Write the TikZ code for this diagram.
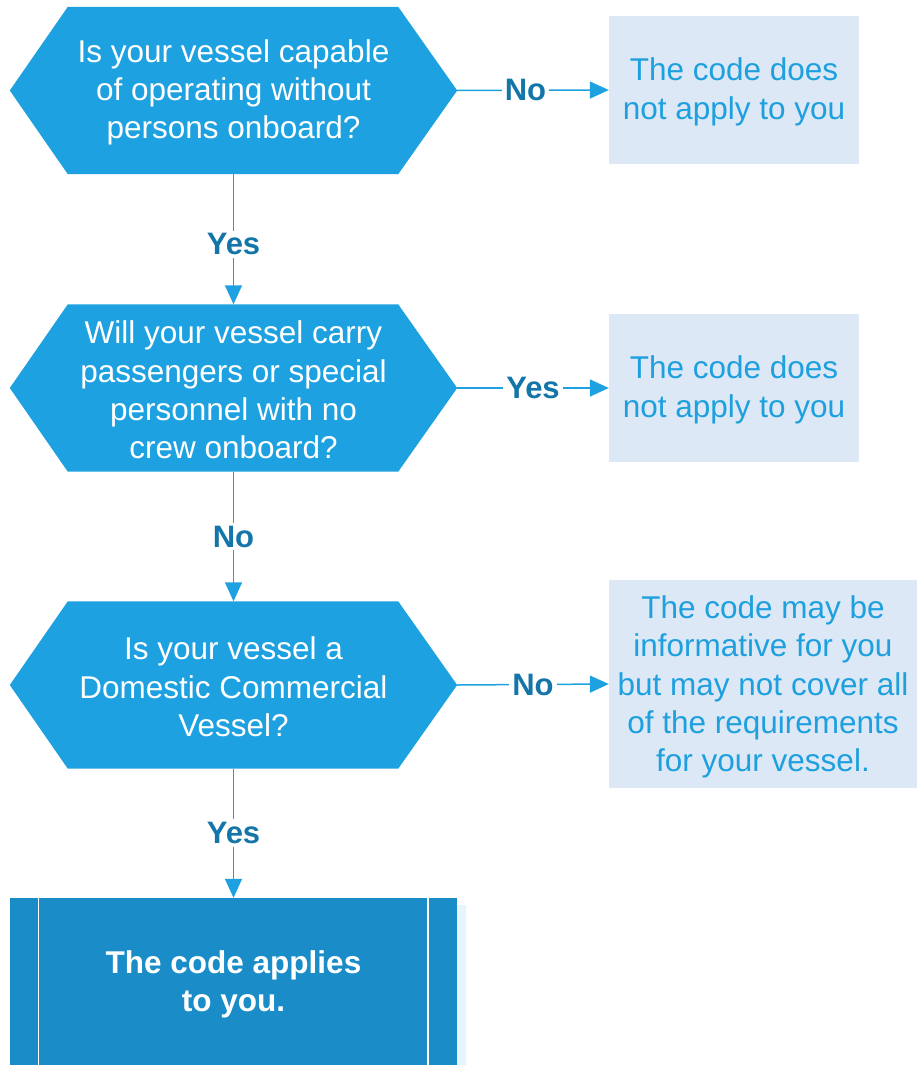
\documentclass[tikz,border=0pt]{standalone}
\usepackage{fontspec}
\setmainfont{Liberation Sans}
\usetikzlibrary{arrows.meta}
\definecolor{hexblue}{RGB}{30,161,224}
\definecolor{endblue}{RGB}{26,141,200}
\definecolor{notefill}{RGB}{220,232,246}
\definecolor{notetext}{RGB}{30,160,222}
\definecolor{labelblue}{RGB}{20,118,168}
\definecolor{shadowblue}{RGB}{232,244,252}
\tikzset{
  txt/.style={font=\fontsize{31.5}{38.3}\selectfont, align=center},
  question/.style={txt, text=white, minimum width=447pt, minimum height=167pt, inner sep=0pt, text width=420pt},
  qtext/.style={txt, text=white, yshift=-2pt},
  hexfill/.style={fill=hexblue},
  note/.style={fill=notefill, inner sep=0pt, minimum height=148pt, minimum width=250pt},
  notetxt/.style={txt, text=notetext, yshift=-2pt},
  arr/.style={draw=hexblue, line width=1.5pt, -{Triangle[length=19pt,width=17pt]}},
  lbl/.style={font=\fontsize{31}{36}\bfseries\selectfont, text=labelblue, fill=white, inner sep=3pt},
}
\newcommand{\hexagon}[1]{%
  \path[hexfill] (#1.west) -- ([xshift=58pt]#1.north west) -- ([xshift=-59pt]#1.north east)
    -- (#1.east) -- ([xshift=-59pt]#1.south east) -- ([xshift=58pt]#1.south west) -- cycle;}
\begin{document}
\begin{tikzpicture}[x=1pt,y=-1pt]
\useasboundingbox (0,0) rectangle (917,1065);

% question shapes
\node[question] (q1) at (233.5,90.5) {};
\hexagon{q1}
\node[qtext] at (q1) {Is your vessel capable\\of operating without\\persons onboard?};

\node[question] (q2) at (233.5,388) {};
\hexagon{q2}
\node[qtext] at (q2) {Will your vessel carry\\passengers or special\\personnel with no\\crew onboard?};

\node[question] (q3) at (233.5,685) {};
\hexagon{q3}
\node[qtext] at (q3) {Is your vessel a\\Domestic Commercial\\Vessel?};

% outcome notes
\node[note] (n1) at (734,90) {};
\node[notetxt] at (n1) {The code does\\not apply to you};
\node[note] (n2) at (734,388) {};
\node[notetxt] at (n2) {The code does\\not apply to you};
\node[note, minimum width=308pt, minimum height=208pt] (n3) at (763,684) {};
\node[notetxt, yshift=-1pt] at (n3) {The code may be\\informative for you\\but may not cover all\\of the requirements\\for your vessel.};

% final outcome (predefined process)
\fill[shadowblue] (457,905) rectangle (466,1065);
\node[fill=endblue, minimum width=447pt, minimum height=167pt, inner sep=0pt]
  (fin) at (233.5,981.5) {};
\node[font=\fontsize{31.5}{38.3}\bfseries\selectfont, text=white, align=center, yshift=-3pt]
  at (fin) {The code applies\\to you.};
\draw[white, line width=1.5pt] ([xshift=28.5pt]fin.north west) -- ([xshift=28.5pt]fin.south west);
\draw[white, line width=1.5pt] ([xshift=-29pt]fin.north east) -- ([xshift=-29pt]fin.south east);

% connectors
\draw[arr] (q1.east) -- node[lbl, pos=0.45] {No} (n1.west);
\draw[arr] (q1.south) -- node[lbl, pos=0.54] {Yes} (q2.north);
\draw[arr] (q2.east) -- node[lbl] {Yes} (n2.west);
\draw[arr] (q2.south) -- node[lbl] {No} (q3.north);
\draw[arr] (q3.east) -- node[lbl] {No} (n3.west);
\draw[arr] (q3.south) -- node[lbl] {Yes} (fin.north);
\end{tikzpicture}
\end{document}
